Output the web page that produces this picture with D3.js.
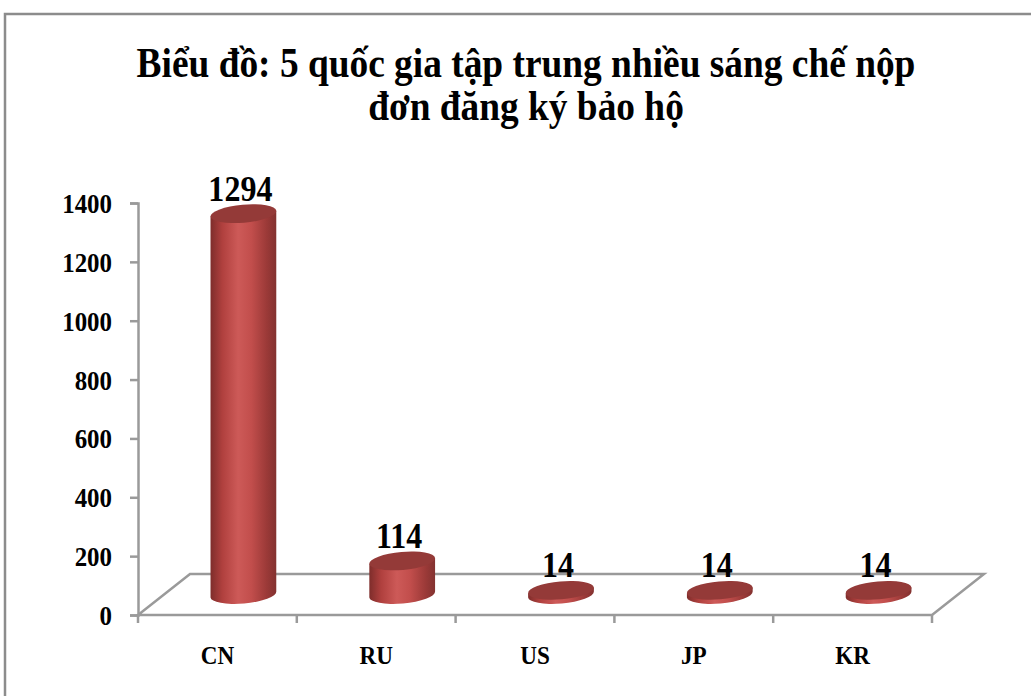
<!DOCTYPE html>
<html>
<head>
<meta charset="utf-8">
<script src="https://cdn.jsdelivr.net/npm/d3@7"></script>
<style>
  body { margin: 0; background: #fff; }
  text { font-family: "Liberation Serif", "Times New Roman", serif; font-weight: bold; }
</style>
</head>
<body>
<div class="chart"></div>
<script>
// data
var countries = ["CN", "RU", "US", "JP", "KR"];
var filings = [1294, 114, 14, 14, 14];
var yTicks = [0, 200, 400, 600, 800, 1000, 1200, 1400];
var titleLines = ["Biểu đồ: 5 quốc gia tập trung nhiều sáng chế nộp", "đơn đăng ký bảo hộ"];

var W = 1031, H = 696;
var sx = 0.89; // text in the picture is a bit narrow
var svg = d3.select("div.chart").append("svg")
  .attr("width", W).attr("height", H);

// put a text at x,y squeezed horizontally
function squeeze(sel, fx, fy){
  sel.attr("x", 0).attr("y", 0)
     .attr("transform", function(d, i){
       return "translate(" + fx(d, i) + "," + fy(d, i) + ") scale(" + sx + ",1)";
     });
}

// outer frame
svg.append("rect")
  .attr("x", 5).attr("y", 14)
  .attr("width", W + 20).attr("height", H + 20)
  .attr("fill", "none").attr("stroke", "#8c8c8c").attr("stroke-width", 2.5);

// title
svg.selectAll(".title").data(titleLines).enter()
  .append("text")
  .attr("class", "title")
  .attr("text-anchor", "middle")
  .attr("font-size", 42)
  .text(function(d){ return d; })
  .call(squeeze, function(){ return 526; }, function(d, i){ return 77 + i * 43; });

// 3d floor geometry
var left = 138, right = 932, base = 615;
var depth = {dx: 52, dy: -41};

var x = d3.scaleBand().domain(countries).range([left, right]).padding(0);
var y = d3.scaleLinear().domain([0, 1400]).range([base, 203]);

var gray = "#9a9a9a";

// floor
svg.append("path")
  .attr("d", "M" + left + "," + base + "L" + right + "," + base +
             "L" + (right + depth.dx) + "," + (base + depth.dy) +
             "L" + (left + depth.dx) + "," + (base + depth.dy) + "Z")
  .attr("fill", "none").attr("stroke", gray).attr("stroke-width", 2.5);

// y axis
var yAxis = d3.axisLeft(y).tickValues(yTicks).tickSize(8).tickFormat(d3.format("d"));
var yg = svg.append("g").attr("transform", "translate(" + left + ",0)").call(yAxis);
yg.select(".domain").attr("stroke", gray).attr("stroke-width", 2.5);
yg.selectAll(".tick line").attr("stroke", gray).attr("stroke-width", 2.5);
yg.selectAll(".tick text")
  .attr("font-size", 28).attr("fill", "#000")
  .attr("font-family", "Liberation Serif, serif").attr("font-weight", "bold")
  .attr("dy", "0.34em")
  .call(squeeze, function(){ return -26; }, function(){ return 0; });

// x axis ticks on the front edge
var bounds = countries.map(function(c){ return x(c); }).concat([right]);
svg.selectAll(".xtick").data(bounds).enter()
  .append("line")
  .attr("x1", function(d){ return d; }).attr("x2", function(d){ return d; })
  .attr("y1", base).attr("y2", base + 8)
  .attr("stroke", gray).attr("stroke-width", 2.5);

svg.selectAll(".xlab").data(countries).enter()
  .append("text")
  .attr("text-anchor", "middle")
  .attr("font-size", 26)
  .text(function(d){ return d; })
  .call(squeeze, function(d){ return x(d) + x.bandwidth() / 2; }, function(){ return 664; });

// gradient for cylinder body
var defs = svg.append("defs");
var grad = defs.append("linearGradient").attr("id", "body")
  .attr("x1", "0%").attr("x2", "100%").attr("y1", "0%").attr("y2", "0%");
[["0%", "#7e2d2b"], ["18%", "#b0403e"], ["42%", "#cd5a58"], ["62%", "#c24e4c"], ["85%", "#9c3a38"], ["100%", "#833230"]]
  .forEach(function(s){ grad.append("stop").attr("offset", s[0]).attr("stop-color", s[1]); });

// cylinders
var rx = 33, ry = 9, tilt = -5;
var t = tilt * Math.PI / 180;
var ex = rx * Math.cos(t), ey = rx * Math.sin(t);

var bars = svg.selectAll(".bar").data(countries).enter()
  .append("g").attr("class", "bar");

bars.each(function(c, i){
  var g = d3.select(this);
  var cx = x(c) + x.bandwidth() / 2 + depth.dx / 2;
  var by = y(0) + depth.dy / 2;
  var ty = y(filings[i]) + depth.dy / 2;

  g.append("path")
    .attr("d", "M" + (cx - ex) + "," + (ty - ey) +
               "L" + (cx - ex) + "," + (by - ey) +
               "A" + rx + "," + ry + " " + tilt + " 0 0 " + (cx + ex) + "," + (by + ey) +
               "L" + (cx + ex) + "," + (ty + ey) + "Z")
    .attr("fill", "url(#body)");

  g.append("ellipse")
    .attr("cx", cx).attr("cy", ty).attr("rx", rx).attr("ry", ry)
    .attr("transform", "rotate(" + tilt + "," + cx + "," + ty + ")")
    .attr("fill", "#943a38");

  g.append("text")
    .attr("text-anchor", "middle")
    .attr("font-size", 36)
    .text(filings[i])
    .call(squeeze, function(){ return cx - 3; }, function(){ return ty - 13; });
});
</script>
</body>
</html>
